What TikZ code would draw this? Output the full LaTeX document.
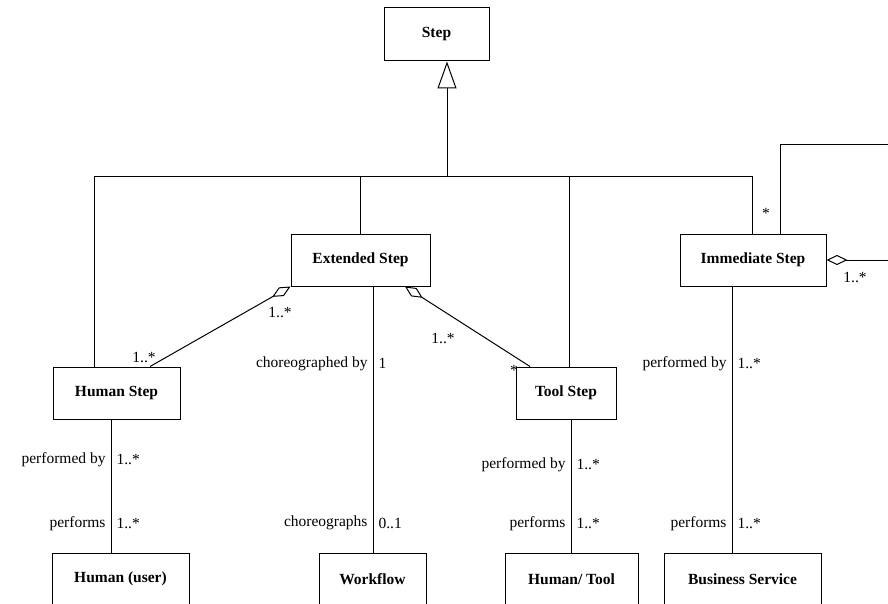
\documentclass[tikz,border=0pt]{standalone}
\usepackage{fontspec}
\setmainfont{Liberation Serif}
\usetikzlibrary{arrows.meta}

\begin{document}
\begin{tikzpicture}[
  x=1pt, y=-1pt,
  line width=1pt,
  every node/.style={font=\fontsize{15.5}{18}\selectfont},
  box/.style={draw, rectangle, inner sep=0pt, minimum height=52pt, font=\fontsize{15.5}{18}\selectfont\bfseries},
  lbl/.style={inner sep=5pt},
  agg/.style={{Diamond[open,length=21pt,width=10pt]}-},
  gen/.style={-{Triangle[open,length=27pt,width=19pt]}}
]
\useasboundingbox (0,0) rectangle (888,604);
\clip (0,0) rectangle (888,604);

% CLASSES
\node (step)      [box, minimum width=105pt, minimum height=53pt] at (436.5,34.5) {Step};
\node (extended)  [box, minimum width=139pt] at (360.5,260) {Extended Step};
\node (immediate) [box, minimum width=146pt] at (753,260)   {Immediate Step};
\node (humanstep) [box, minimum width=127pt] at (116.5,393) {Human Step};
\node (toolstep)  [box, minimum width=100pt] at (566,393)   {Tool Step};

% PERFORMERS
\node (humanuser) [box, minimum width=137pt] at (120.5,579) {Human (user)};
\node (workflow)  [box, minimum width=107pt] at (372.5,579) {Workflow};
\node (humantool) [box, minimum width=133pt] at (571.5,579) {Human/ Tool};
\node (business)  [box, minimum width=157pt] at (742.5,579) {Business Service};

% GENERALIZATION
\coordinate (join) at (447,177);
\draw (94,0 |- humanstep.north)  |- (join);
\draw (360,0 |- extended.north)  |- (join);
\draw (569,0 |- toolstep.north)  |- (join);
\draw (752,0 |- immediate.north) |- (join);
\draw[gen] (join) -- (join |- step.south);

% AGGREGATIONS
\draw[agg] (extended.south west) -- (150,0 |- humanstep.north);
\draw[agg] (405,0 |- extended.south) -- (530,0 |- toolstep.north);
\node at (280,312) {1..*};
\node at (144,357) {1..*};
\node at (443,338) {1..*};
\node at (514,370) {*};

\coordinate (loop) at (910,145);
\draw[agg] (immediate.east) -| (loop) -| (780,0 |- immediate.north);
\node at (766,213) {*};
\node at (855,277) {1..*};

% ASSOCIATIONS
\draw (111,0 |- humanstep.south) -- (111,0 |- humanuser.north)
  node[lbl, pos=0.30, left]{performed by} node[lbl, pos=0.30, right]{1..*}
  node[lbl, pos=0.78, left]{performs}     node[lbl, pos=0.78, right]{1..*};
\draw (373,0 |- extended.south) -- (373,0 |- workflow.north)
  node[lbl, pos=0.29, left]{choreographed by} node[lbl, pos=0.29, right]{1}
  node[lbl, pos=0.89, left]{choreographs}     node[lbl, pos=0.89, right]{0..1};
\draw (571,0 |- toolstep.south) -- (571,0 |- humantool.north)
  node[lbl, pos=0.34, left]{performed by} node[lbl, pos=0.34, right]{1..*}
  node[lbl, pos=0.78, left]{performs}     node[lbl, pos=0.78, right]{1..*};
\draw (732,0 |- immediate.south) -- (732,0 |- business.north)
  node[lbl, pos=0.29, left]{performed by} node[lbl, pos=0.29, right]{1..*}
  node[lbl, pos=0.89, left]{performs}     node[lbl, pos=0.89, right]{1..*};
\end{tikzpicture}
\end{document}
